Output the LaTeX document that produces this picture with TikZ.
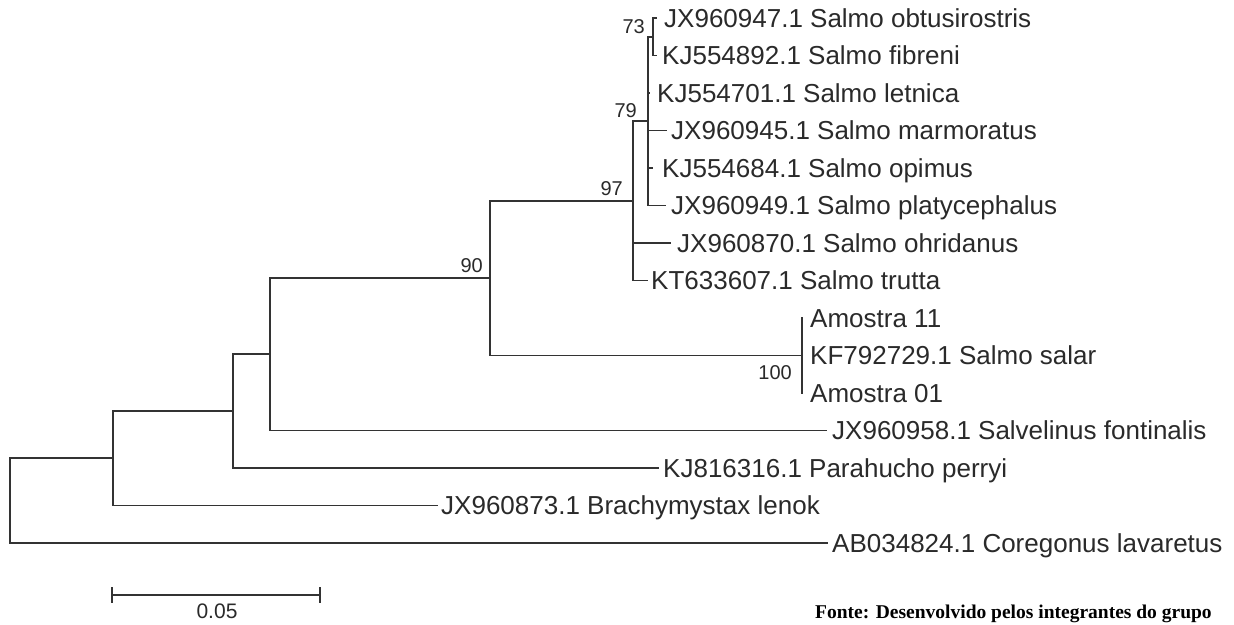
\documentclass[tikz,border=0pt]{standalone}
\usepackage{fontspec}
\setmainfont{Liberation Sans}
\newfontfamily\footserif{Liberation Serif}
\definecolor{branchgray}{HTML}{333333}
\definecolor{textgray}{HTML}{2A2A2A}
\begin{document}
\begin{tikzpicture}[x=1pt,y=-1pt,
  branch/.style={draw=branchgray,line width=1.9pt,line cap=rect},
  leaf/.style={anchor=base west,inner sep=0pt,text=textgray,font=\fontsize{26}{26}\selectfont},
  boot/.style={anchor=base east,inner sep=0pt,text=textgray,font=\fontsize{20}{20}\selectfont},
  scalelab/.style={anchor=base,inner sep=0pt,text=textgray,font=\fontsize{21}{21}\selectfont},
  footer/.style={anchor=base west,inner sep=0pt,text=black,font=\fontsize{19.5}{19.5}\footserif\bfseries}]
\useasboundingbox (0,0) rectangle (1234,624);
\fill[white] (0,0) rectangle (1234,624);
% internal nodes
\coordinate (n73) at (653,36.75);
\coordinate (n79) at (648,121.1);
\coordinate (n97) at (633,200.8);
\coordinate (n100) at (802,355.5);
\coordinate (n90) at (490,278.2);
\coordinate (n270) at (270,354.3);
\coordinate (n233) at (233,411.2);
\coordinate (n113) at (113,458.3);
\coordinate (root) at (10,500.7);
% leaf tips
\coordinate (t1) at (656,18);
\coordinate (t2) at (656,55.5);
\coordinate (t3) at (649,93);
\coordinate (t4) at (666,130.5);
\coordinate (t5) at (652,168);
\coordinate (t6) at (665,205.5);
\coordinate (t7) at (670,243);
\coordinate (t8) at (647,280.5);
\coordinate (t9) at (802,318);
\coordinate (t10) at (802,355.5);
\coordinate (t11) at (802,393);
\coordinate (t12) at (826,430.5);
\coordinate (t13) at (658,468);
\coordinate (t14) at (437,505.5);
\coordinate (t15) at (827,543);
% leaf labels
\node[leaf] (l1) at (664,27) {JX960947.1 Salmo obtusirostris};
\node[leaf] (l2) at (662,64.5) {KJ554892.1 Salmo fibreni};
\node[leaf] (l3) at (657,102) {KJ554701.1 Salmo letnica};
\node[leaf] (l4) at (671,139.5) {JX960945.1 Salmo marmoratus};
\node[leaf] (l5) at (662,177) {KJ554684.1 Salmo opimus};
\node[leaf] (l6) at (671,214.5) {JX960949.1 Salmo platycephalus};
\node[leaf] (l7) at (677,252) {JX960870.1 Salmo ohridanus};
\node[leaf] (l8) at (651,289.5) {KT633607.1 Salmo trutta};
\node[leaf] (l9) at (810,327) {Amostra 11};
\node[leaf] (l10) at (810,364.5) {KF792729.1 Salmo salar};
\node[leaf] (l11) at (810,402) {Amostra 01};
\node[leaf] (l12) at (832,439.5) {JX960958.1 Salvelinus fontinalis};
\node[leaf] (l13) at (663,477) {KJ816316.1 Parahucho perryi};
\node[leaf] (l14) at (441,514.5) {JX960873.1 Brachymystax lenok};
\node[leaf] (l15) at (832,552) {AB034824.1 Coregonus lavaretus};
% branches
\draw[branch] (n73) |- (t1) (n73) |- (t2);
\draw[branch] (n79) |- (n73) (n79) |- (t3) (n79) |- (t4) (n79) |- (t5) (n79) |- (t6);
\draw[branch] (n97) |- (n79) (n97) |- (t7) (n97) |- (t8);
\draw[branch] (n100) |- (t9) (n100) |- (t10) (n100) |- (t11);
\draw[branch] (n90) |- (n97) (n90) |- (n100);
\draw[branch] (n270) |- (n90) (n270) |- (t12);
\draw[branch] (n233) |- (n270) (n233) |- (t13);
\draw[branch] (n113) |- (n233) (n113) |- (t14);
\draw[branch] (root) |- (n113) (root) |- (t15);
% bootstrap values
\node[boot] (b73) at (645,33.5) {73};
\node[boot] (b79) at (637,117) {79};
\node[boot] (b97) at (623,195) {97};
\node[boot] (b90) at (483,272) {90};
\node[boot] (b100) at (792,379) {100};
% scale bar
\coordinate (s1) at (112,595);
\coordinate (s2) at (320,595);
\draw[branch,line width=1.4pt] (s1) -- (s2);
\draw[branch,line width=1.4pt] ([yshift=-7pt]s1) -- ([yshift=7pt]s1);
\draw[branch,line width=1.4pt] ([yshift=-7pt]s2) -- ([yshift=7pt]s2);
\node[scalelab] (sl) at (217,618) {0.05};
% footer
\node[footer] (foot) at (815,618.5) {Fonte: Desenvolvido pelos integrantes do grupo};
\end{tikzpicture}
\end{document}
